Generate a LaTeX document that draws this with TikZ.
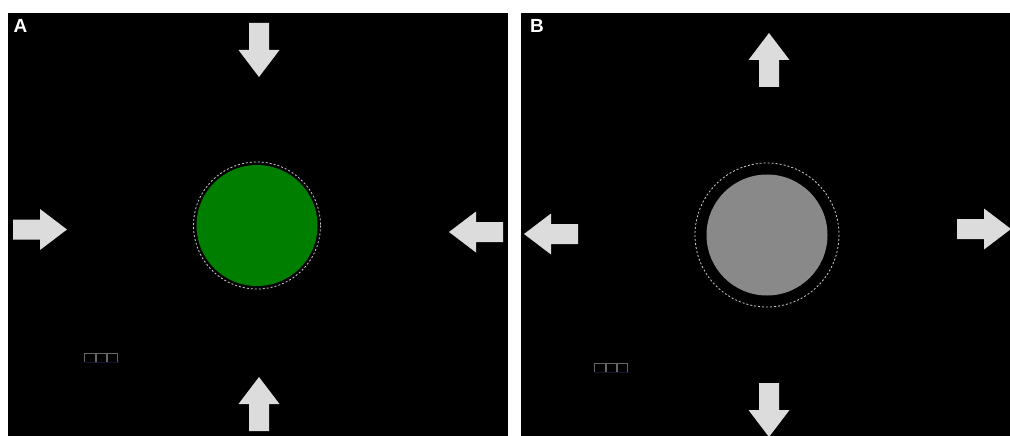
\documentclass[tikz,border=0pt]{standalone}
\usepackage{fontspec}
\setmainfont{Liberation Sans}
\begin{document}
\begin{tikzpicture}[x=1pt,y=-1pt,
  panel/.style={fill=black,draw=none},
  arrowfill/.style={fill=arrowgray,draw=none},
  ring/.style={draw=white!80!black,line width=0.8pt,dash pattern=on 2pt off 2pt},
  tag/.style={text=white,font=\bfseries\fontsize{19}{19}\selectfont,inner sep=0pt},
  barline/.style={draw=gray!80!black,line width=0.7pt},
  barbase/.style={draw=barblue,line width=0.7pt},
  pics/bigarrow/.style={code={
    \fill[arrowfill] (0,-10) -- (27,-10) -- (27,-20.5) -- (54,0) -- (27,20.5) -- (27,10) -- (0,10) -- cycle;
  }}]
\definecolor{arrowgray}{HTML}{DCDCDC}
\definecolor{cellgreen}{HTML}{007E00}
\definecolor{cellgray}{HTML}{898989}
\definecolor{barblue}{HTML}{141430}
\useasboundingbox (0,0) rectangle (1010,436);
\fill[white] (0,0) rectangle (1010,436);

% panels
\fill[panel] (8,13) rectangle (508,436);
\fill[panel] (521,13) rectangle (1010,436);
\node[tag] (labA) at (20.5,26) {A};
\node[tag] (labB) at (537,25.5) {B};

% panel A: green disc with dotted outline
\fill[cellgreen] (257,225.5) circle (60.5);
\draw[ring] (257,225.5) circle (63.5);

% panel A: arrows pointing inward
\pic[rotate=-90] at (259,23) {bigarrow};
\pic at (13,229.5) {bigarrow};
\pic[rotate=180] at (503,232) {bigarrow};
\pic[rotate=90] at (259,431) {bigarrow};

% panel B: grey disc with wider dotted outline
\fill[cellgray] (767,235) circle (60.5);
\draw[ring] (767,235) circle (72);

% panel B: arrows pointing outward
\pic[rotate=90] at (769,87) {bigarrow};
\pic[rotate=180] at (578,234) {bigarrow};
\pic at (957,229) {bigarrow};
\pic[rotate=-90] at (769,383) {bigarrow};

% scale bars
\foreach \bx/\by in {84.5/353, 594.5/363} {
  \draw[barbase] (\bx,\by+9) -- ++(34,0);
  \foreach \k in {0,1,2} {
    \draw[barline] (\bx+11.4*\k,\by+9) -- ++(0,-9) -- ++(10.4,0) -- ++(0,9);
  }
}
\end{tikzpicture}
\end{document}
